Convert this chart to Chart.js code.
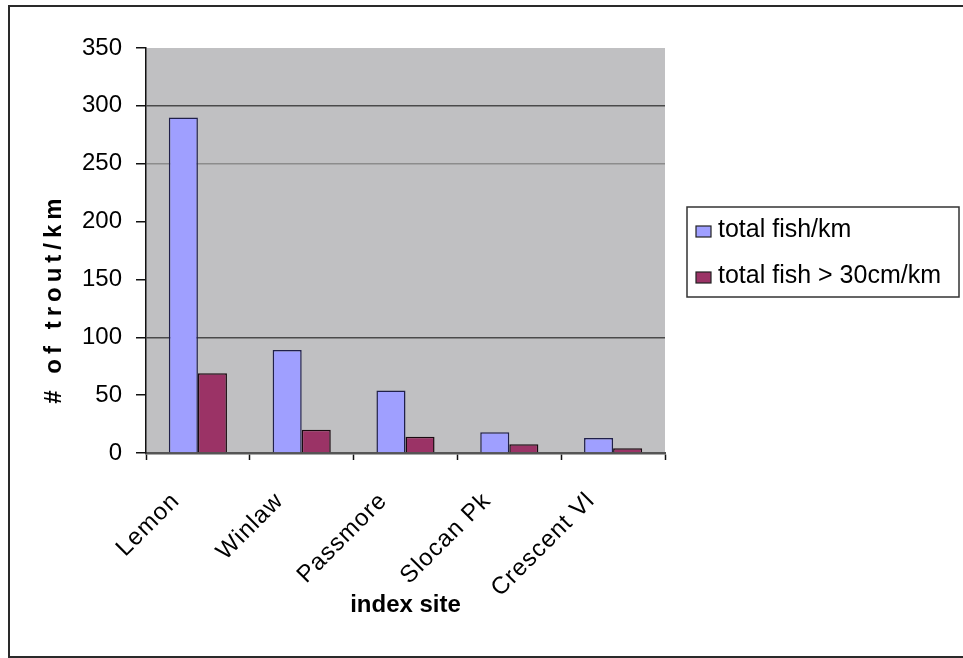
<!DOCTYPE html>
<html><head><meta charset="utf-8">
<script src="https://cdn.jsdelivr.net/npm/chart.js@4.4.1/dist/chart.umd.min.js"></script>
<style>html,body{margin:0;padding:0;background:#fff}#wrap{width:963px;height:658px;position:relative}</style>
</head><body><div id="wrap"><canvas id="c"></canvas></div>
<script>
const categories = ['Lemon', 'Winlaw', 'Passmore', 'Slocan Pk', 'Crescent Vl'];
const totalFish = [290, 89, 54, 18, 13];
const bigFish = [69, 20, 14, 7.5, 4];
const seriesLabels = ['total fish/km', 'total fish > 30cm/km'];
const yMin = 0, yMax = 350, yStep = 50;
const yTitle = '# of trout/km';
const xTitle = 'index site';

const FONT = "'Liberation Sans', Arial, sans-serif";

const framePlugin = {
  id: 'frame',
  beforeDraw(chart) {
    const c = chart.ctx, a = chart.chartArea;
    c.save();
    c.fillStyle = '#fff';
    c.fillRect(0, 0, chart.width, chart.height);
    c.fillStyle = '#c0c0c2';
    c.fillRect(a.left, a.top, a.right - a.left, a.bottom - a.top);
    c.restore();
  },
  afterDraw(chart) {
    const c = chart.ctx;
    c.save();
    c.strokeStyle = '#2a2a2a';
    c.lineWidth = 2;
    c.beginPath();
    c.moveTo(963, 6); c.lineTo(9, 6); c.lineTo(9, 657); c.lineTo(963, 657);
    c.stroke();
    // legend box
    c.fillStyle = '#fff';
    c.fillRect(687, 207, 272, 90);
    c.strokeStyle = '#333';
    c.lineWidth = 1.5;
    c.strokeRect(687, 207, 272, 90);
    c.font = '25px ' + FONT;
    c.textBaseline = 'alphabetic';
    c.textAlign = 'left';
    const baselines = [237, 283];
    chart.data.datasets.forEach((ds, i) => {
      const by = baselines[i];
      c.fillStyle = ds.backgroundColor;
      c.fillRect(696, by - 11, 15, 11);
      c.strokeStyle = '#222';
      c.lineWidth = 1.2;
      c.strokeRect(696, by - 11, 15, 11);
      c.fillStyle = '#000';
      c.fillText(ds.label, 718, by);
    });
    c.restore();
  }
};

new Chart(document.getElementById('c'), {
  type: 'bar',
  data: {
    labels: categories,
    datasets: [
      { label: seriesLabels[0], data: totalFish, backgroundColor: '#9f9fff', borderColor: '#20204a', borderWidth: 1.5, borderSkipped: 'bottom' },
      { label: seriesLabels[1], data: bigFish, backgroundColor: '#9b3366', borderColor: '#1a0a10', borderWidth: 1.5, borderSkipped: 'bottom' }
    ]
  },
  options: {
    responsive: true,
    maintainAspectRatio: false,
    animation: false,
    devicePixelRatio: 1,
    layout: { padding: { left: 0, top: 48, right: 298, bottom: 0 } },
    plugins: { legend: { display: false }, tooltip: { enabled: false } },
    datasets: { bar: { barPercentage: 1.0, categoryPercentage: 0.56 } },
    scales: {
      x: {
        grid: { drawOnChartArea: false, offset: true, tickLength: 7, tickColor: '#111', tickWidth: 1.5 },
        border: { color: '#555', width: 2.5 },
        ticks: { color: '#000', font: { family: FONT, size: 24 }, maxRotation: 45, minRotation: 45, padding: 27, labelOffset: -22, autoSkip: false },
        title: { display: true, text: xTitle, color: '#000', font: { family: FONT, size: 24, weight: 'bold' }, padding: { top: 0, bottom: 38 } },
        afterFit(s) {
          s.height = 658 - 453;
          if (!s._wrapped) {
            const o = s.drawLabels;
            s.drawLabels = function (a) { const c = this.ctx; c.save(); c.letterSpacing = '1px'; o.call(this, a); c.restore(); };
            s._wrapped = true;
          }
        }
      },
      y: {
        min: yMin, max: yMax,
        grid: {
          color: (ctx) => {
            const v = ctx.tick ? ctx.tick.value : null;
            if (v === 300 || v === 100) return '#4a4a4a';
            if (v === 250) return '#8c8c8c';
            return 'rgba(0,0,0,0)';
          },
          lineWidth: 1.5, tickLength: 10, tickColor: '#111', tickWidth: 1.5
        },
        border: { color: '#111', width: 1.5 },
        ticks: { stepSize: yStep, color: '#000', font: { family: FONT, size: 24 }, padding: 14 },
        title: { display: true, text: yTitle, color: '#000', font: { family: FONT, size: 24, weight: 'bold' }, padding: { top: 40, bottom: 0 } },
        afterFit(s) {
          s.width = 146;
          if (!s._wrapped) {
            const o = s.drawTitle;
            s.drawTitle = function () { const c = this.ctx; c.save(); c.letterSpacing = '5px'; c.translate(0, 48); o.call(this); c.restore(); };
            s._wrapped = true;
          }
        }
      }
    }
  },
  plugins: [framePlugin]
});
</script>
</body></html>
